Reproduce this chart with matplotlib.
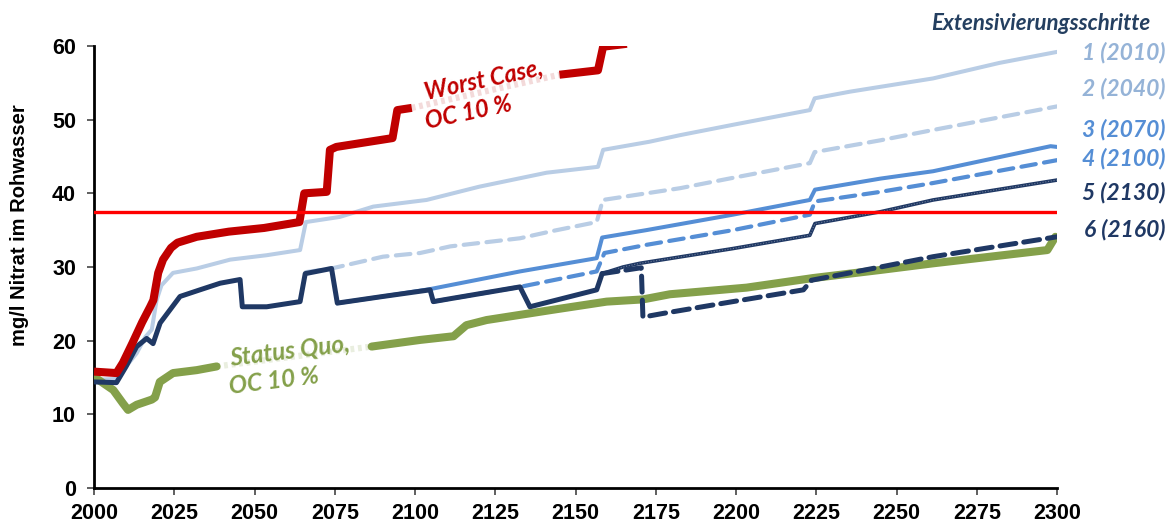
import matplotlib
matplotlib.use("Agg")
import matplotlib.pyplot as plt
import numpy as np

# --- data (mg/l nitrate in raw water) ---
wc_years = [2000, 2007, 2009, 2012, 2015, 2017.5, 2018.5, 2020, 2021.5, 2024, 2026, 2032, 2042,
            2053, 2064, 2065.5, 2072.5, 2073.5, 2075.5, 2093, 2094.5, 2099,
            np.nan, 2145, 2157, 2158.6, 2166]
wc_vals = [15.8, 15.6, 17.0, 19.7, 22.5, 24.6, 25.5, 29.2, 31.0, 32.6, 33.3, 34.1, 34.8,
           35.3, 36.1, 40.0, 40.2, 45.9, 46.3, 47.5, 51.3, 51.6,
           np.nan, 56.1, 56.7, 59.9, 60.3]

sq_years = [2000, 2006, 2009, 2010.6, 2013.3, 2018, 2019, 2020.5, 2024.6, 2032, 2038.2,
            np.nan, 2086.5, 2101.6, 2112, 2116, 2122.3, 2143, 2159.7, 2171, 2179.4, 2203.3,
            2224, 2245, 2261.4, 2297, 2299.5]
sq_vals = [15.1, 13.3, 11.5, 10.6, 11.3, 12.0, 12.3, 14.4, 15.6, 16.0, 16.5,
           np.nan, 19.2, 20.1, 20.6, 22.1, 22.8, 24.2, 25.3, 25.6, 26.3, 27.2,
           28.5, 29.6, 30.5, 32.3, 34.1]

s1_years = [2000, 2007, 2010, 2013.3, 2016, 2018, 2019.5, 2021, 2024.6, 2032, 2042.4, 2053.8,
            2064.2, 2066, 2076.6, 2087, 2103.6, 2120, 2141, 2157, 2158.6, 2173, 2182.6,
            2199, 2223, 2224.5, 2235.5, 2261.4, 2282, 2300]
s1_vals = [14.7, 14.8, 16.5, 18.3, 20.5, 21.5, 25.5, 27.5, 29.2, 29.8, 31.0, 31.6,
           32.3, 36.1, 36.8, 38.2, 39.1, 40.9, 42.8, 43.6, 45.9, 47.0, 47.9,
           49.3, 51.3, 52.9, 53.8, 55.6, 57.7, 59.2]

s2_years = [2066, 2074, 2076, 2090, 2101.6, 2111, 2132.7, 2143, 2156.6, 2158.5, 2182.6,
            2199, 2223, 2224.5, 2245, 2261.4, 2300]
s2_vals = [29.3, 29.8, 30.0, 31.4, 31.9, 32.8, 33.9, 34.9, 36.1, 39.1, 40.7,
           42.1, 44.1, 45.6, 47.2, 48.6, 51.8]

s3_years = [2076, 2090, 2104.7, 2132.7, 2156.6, 2158.3, 2172, 2199, 2223, 2224.6, 2245,
            2261.4, 2298, 2300]
s3_vals = [25.1, 26.0, 27.0, 29.4, 31.2, 34.0, 35.0, 37.1, 39.1, 40.5, 42.0,
           43.0, 46.4, 46.3]

s4_years = [2105.7, 2132.7, 2156.6, 2159, 2172, 2199, 2223, 2224.6, 2245, 2261.4, 2300]
s4_vals = [25.3, 27.3, 29.4, 31.9, 33.0, 35.0, 37.1, 38.9, 40.2, 41.4, 44.5]

s5_years = [2158.3, 2164.8, 2170, 2199, 2223, 2224.6, 2245, 2261.4, 2300]
s5_vals = [29.1, 30.0, 30.5, 32.5, 34.3, 35.9, 37.5, 39.1, 41.8]

s6_years = [2158.3, 2170.5, 2171, 2177.3, 2199, 2221, 2223.5, 2245, 2261.4, 2300]
s6_vals = [29.1, 29.9, 23.2, 23.7, 25.3, 26.9, 28.2, 30.0, 31.4, 34.1]

# combined path of the stepwise extensification (thick navy line)
nv_years = [2000, 2007, 2010, 2013.3, 2016.4, 2018.4, 2020.6, 2023.7, 2026.8, 2033, 2039.3,
            2045.5, 2046.2, 2053.8, 2064.2, 2065.8, 2074, 2075.8, 2090, 2104.7, 2105.7,
            2111, 2132.7, 2135.8, 2156.6, 2158.3]
nv_vals = [14.4, 14.3, 16.5, 19.2, 20.3, 19.6, 22.4, 24.2, 26.0, 26.9, 27.8,
           28.3, 24.6, 24.6, 25.3, 29.1, 29.8, 25.1, 26.0, 26.9, 25.3,
           25.7, 27.3, 24.6, 26.9, 29.1]

limit = 37.5
step_labels = ["1 (2010)", "2 (2040)", "3 (2070)", "4 (2100)", "5 (2130)", "6 (2160)"]

RED = "#C00000"
GREEN = "#84A04A"
LBLUE = "#B9CDE5"
MBLUE = "#558ED5"
NAVY = "#1F3864"

fig = plt.figure(figsize=(11.73, 5.26), dpi=100)
ax = fig.add_axes([94 / 1173, 38 / 526, 963 / 1173, 442 / 526])

ax.plot(s1_years, s1_vals, color=LBLUE, lw=2.9, solid_capstyle="round", zorder=2)
ax.plot(s2_years, s2_vals, color=LBLUE, lw=3.0, dashes=(3.5, 2.0), dash_capstyle="round", zorder=2)
ax.plot(s3_years, s3_vals, color=MBLUE, lw=2.9, zorder=3)
ax.plot(s4_years, s4_vals, color=MBLUE, lw=3.0, dashes=(3.5, 2.0), dash_capstyle="round", zorder=3)

# Status Quo with a faint connector behind the label
ax.plot(sq_years, sq_vals, color=GREEN, lw=5.8, solid_capstyle="round", zorder=4)
ax.plot([sq_years[10], sq_years[12]], [sq_vals[10], sq_vals[12]], color="#E9EEDF",
        lw=4.5, ls=(0, (0.6, 0.6)), zorder=1)

ax.plot(s5_years, s5_vals, color=NAVY, lw=2.6, zorder=5)
ax.plot(s5_years, s5_vals, color="white", lw=0.8, ls=(0, (1, 1.5)), alpha=0.35, zorder=5)
ax.plot(s6_years, s6_vals, color=NAVY, lw=3.6, dashes=(3.2, 1.6), dash_capstyle="round", zorder=6)
ax.plot(nv_years, nv_vals, color=NAVY, lw=3.6, solid_capstyle="round", zorder=6)

# Worst Case with a faint connector behind the label
ax.plot(wc_years, wc_vals, color=RED, lw=5.8, solid_capstyle="butt", zorder=7)
ax.plot([wc_years[21], wc_years[23]], [wc_vals[21], wc_vals[23]], color="#F3DADA",
        lw=4.5, ls=(0, (0.6, 0.6)), zorder=1)

ax.axhline(limit, color="#FF0000", lw=2.4, zorder=8)

ax.set_xlim(2000, 2300)
ax.set_ylim(0, 60)
ax.set_xticks(np.arange(2000, 2301, 25))
ax.set_yticks(np.arange(0, 61, 10))
for side in ["top", "right"]:
    ax.spines[side].set_visible(False)
for side in ["left", "bottom"]:
    ax.spines[side].set_linewidth(2)
    ax.spines[side].set_color("black")
ax.tick_params(axis="both", direction="out", length=5, width=1.2, color="#444444")
ax.tick_params(axis="y", pad=8)
ax.tick_params(axis="x", pad=6)
for lab in ax.get_yticklabels():
    lab.set_fontfamily("Liberation Sans")
    lab.set_fontweight("bold")
    lab.set_fontsize(15.5)
for lab in ax.get_xticklabels():
    lab.set_fontfamily(["Liberation Sans Narrow", "Liberation Sans"])
    lab.set_fontweight("bold")
    lab.set_fontsize(15.5)

fig.text(20 / 1173, 1 - 225 / 526, "mg/l Nitrat im Rohwasser", rotation=90, ha="center",
         va="center", fontsize=14.5, fontweight="bold", family="Liberation Sans")

lab_font = dict(family="Lato", fontweight="bold", fontstyle="italic")
fig.text(484 / 1173, 1 - 80 / 526, "Worst Case,", color=RED, rotation=12, ha="center",
         va="center", fontsize=17, rotation_mode="anchor", **lab_font)
fig.text(469 / 1173, 1 - 113 / 526, "OC 10 %", color=RED, rotation=12, ha="center",
         va="center", fontsize=17, rotation_mode="anchor", **lab_font)
fig.text(290 / 1173, 1 - 351 / 526, "Status Quo,", color=GREEN, rotation=7, ha="center",
         va="center", fontsize=17.5, rotation_mode="anchor", **lab_font)
fig.text(274 / 1173, 1 - 381 / 526, "OC 10 %", color=GREEN, rotation=7, ha="center",
         va="center", fontsize=17.5, rotation_mode="anchor", **lab_font)

fig.text(1150 / 1173, 1 - 24 / 526, "Extensivierungsschritte", color="#243F60", ha="right",
         va="center", fontsize=16, **lab_font)
step_colors = ["#95B3D7", "#95B3D7", MBLUE, MBLUE, NAVY, NAVY]
step_y = [53, 89, 130, 159, 193, 230]
for txt, col, yy in zip(step_labels, step_colors, step_y):
    fig.text(1165 / 1173, 1 - yy / 526, txt, color=col, ha="right", va="center",
             fontsize=16.5, **lab_font)

fig.savefig("out.png", dpi=100)
